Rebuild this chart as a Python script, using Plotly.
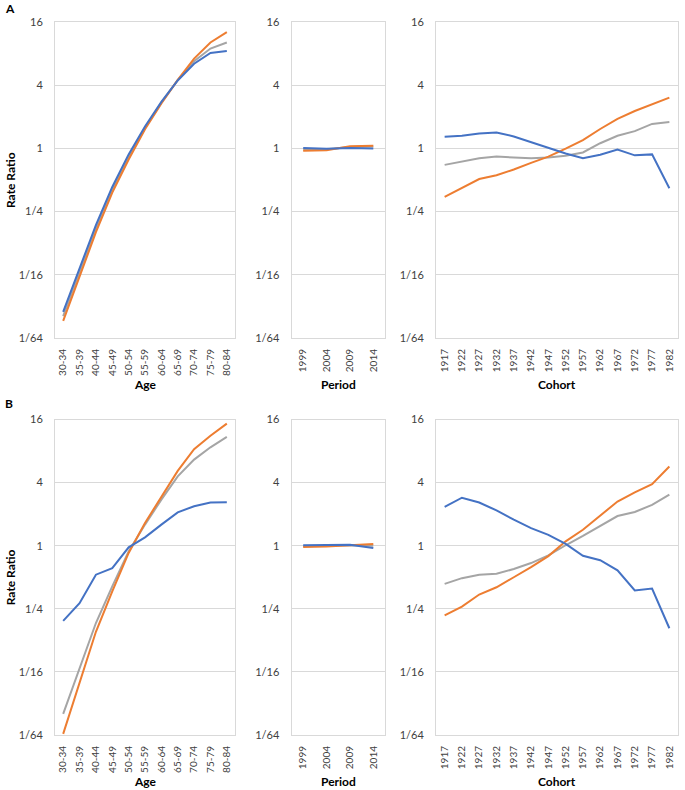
import plotly.graph_objects as go
import math

age_groups = ["30-34", "35-39", "40-44", "45-49", "50-54", "55-59", "60-64", "65-69", "70-74", "75-79", "80-84"]
periods = ["1999", "2004", "2009", "2014"]
cohorts = ["1917", "1922", "1927", "1932", "1937", "1942", "1947", "1952", "1957", "1962", "1967", "1972", "1977", "1982"]

# Panel A
a_age_blue = [0.0277, 0.0713, 0.186, 0.429, 0.877, 1.62, 2.77, 4.44, 6.41, 8.11, 8.46]
a_age_orange = [0.0227, 0.0604, 0.159, 0.379, 0.785, 1.52, 2.68, 4.50, 7.16, 10.2, 12.8]
a_age_gray = [0.0252, 0.0656, 0.172, 0.403, 0.829, 1.57, 2.73, 4.47, 6.77, 8.94, 10.2]
a_per_blue = [1.01, 0.99, 1.01, 1.00]
a_per_orange = [0.95, 0.96, 1.05, 1.06]
a_per_gray = [0.97, 0.98, 1.03, 1.04]
a_coh_blue = [1.29, 1.32, 1.39, 1.42, 1.30, 1.15, 1.01, 0.895, 0.807, 0.871, 0.973, 0.859, 0.877, 0.418]
a_coh_orange = [0.346, 0.420, 0.511, 0.555, 0.629, 0.727, 0.835, 0.993, 1.20, 1.53, 1.91, 2.27, 2.64, 3.05]
a_coh_gray = [0.697, 0.747, 0.807, 0.835, 0.818, 0.807, 0.818, 0.853, 0.914, 1.12, 1.32, 1.46, 1.71, 1.78]

# Panel B
b_age_blue = [0.192, 0.283, 0.529, 0.611, 0.966, 1.20, 1.59, 2.08, 2.38, 2.58, 2.60]
b_age_orange = [0.0160, 0.0490, 0.151, 0.366, 0.853, 1.65, 2.95, 5.17, 8.34, 11.2, 14.6]
b_age_gray = [0.0249, 0.0679, 0.183, 0.409, 0.883, 1.59, 2.75, 4.59, 6.63, 8.69, 10.9]
b_per_blue = [1.01, 1.01, 1.02, 0.95]
b_per_orange = [0.97, 0.98, 1.01, 1.04]
b_per_gray = [0.99, 1.00, 1.01, 1.00]
b_coh_blue = [2.35, 2.87, 2.58, 2.17, 1.77, 1.47, 1.27, 1.04, 0.801, 0.727, 0.582, 0.374, 0.390, 0.163]
b_coh_orange = [0.216, 0.262, 0.342, 0.401, 0.500, 0.624, 0.796, 1.10, 1.42, 1.95, 2.64, 3.23, 3.86, 5.70]
b_coh_gray = [0.432, 0.490, 0.529, 0.540, 0.599, 0.683, 0.807, 1.01, 1.24, 1.53, 1.92, 2.10, 2.45, 3.07]

y_tickvals = [1/64, 1/16, 1/4, 1, 4, 16]
y_ticktext = ["1/64", "1/16", "1/4", "1", "4", "16"]

BLUE = "#4472C4"
ORANGE = "#ED7D31"
GRAY = "#A5A5A5"
FONT = "Lato"

W, H = 685, 790

def fx(px):
    return px / W

def fy(py):
    return 1 - py / H

x_dom = {
    "age": [fx(55), fx(235)],
    "per": [fx(291.5), fx(385)],
    "coh": [fx(436), fx(678)],
}
y_dom = {
    "A": [fy(338), fy(22)],
    "B": [fy(735), fy(419.5)],
}

panels = [
    ("A", "age", age_groups, [a_age_blue, a_age_orange, a_age_gray], "Age"),
    ("A", "per", periods, [a_per_blue, a_per_orange, a_per_gray], "Period"),
    ("A", "coh", cohorts, [a_coh_blue, a_coh_orange, a_coh_gray], "Cohort"),
    ("B", "age", age_groups, [b_age_blue, b_age_orange, b_age_gray], "Age"),
    ("B", "per", periods, [b_per_blue, b_per_orange, b_per_gray], "Period"),
    ("B", "coh", cohorts, [b_coh_blue, b_coh_orange, b_coh_gray], "Cohort"),
]

fig = go.Figure()
layout = {}
annotations = []

for i, (row, col, cats, series, title) in enumerate(panels, start=1):
    xa = "x" if i == 1 else f"x{i}"
    ya = "y" if i == 1 else f"y{i}"
    for vals, color in [(series[2], GRAY), (series[1], ORANGE), (series[0], BLUE)]:
        fig.add_trace(go.Scatter(x=cats, y=vals, mode="lines",
                                 line=dict(color=color, width=2),
                                 xaxis=xa, yaxis=ya, showlegend=False,
                                 hoverinfo="skip"))
    xkey = "xaxis" if i == 1 else f"xaxis{i}"
    ykey = "yaxis" if i == 1 else f"yaxis{i}"
    layout[xkey] = dict(
        domain=x_dom[col], anchor=ya, type="category",
        categoryorder="array", categoryarray=cats,
        range=[-0.5, len(cats) - 0.5],
        tickangle=-90, tickfont=dict(family=FONT, size=10, color="#404040"),
        showgrid=False, showline=True, linecolor="#D9D9D9", linewidth=1,
        mirror=True, ticks="", zeroline=False, automargin=False,
        ticklabelstandoff=6,
    )
    layout[ykey] = dict(
        domain=y_dom[row], anchor=xa, type="log",
        range=[math.log10(1/64), math.log10(16)],
        tickvals=y_tickvals, ticktext=y_ticktext,
        tickfont=dict(family=FONT, size=11, color="#404040"),
        showgrid=True, gridcolor="#D9D9D9", gridwidth=1,
        showline=True, linecolor="#D9D9D9", linewidth=1, mirror=True,
        ticks="", ticklabelstandoff=9, zeroline=False, automargin=False,
    )
    xc = (x_dom[col][0] + x_dom[col][1]) / 2
    ty = 385 if row == "A" else 781
    annotations.append(dict(text=f"<b>{title}</b>", x=xc, y=fy(ty), xref="paper", yref="paper",
                            showarrow=False, xanchor="center", yanchor="middle",
                            font=dict(family=FONT, size=12, color="#000000")))

for row in ["A", "B"]:
    yc = (y_dom[row][0] + y_dom[row][1]) / 2
    annotations.append(dict(text="<b>Rate Ratio</b>", x=fx(10), y=yc, xref="paper", yref="paper",
                            showarrow=False, textangle=-90, xanchor="center", yanchor="middle",
                            font=dict(family=FONT, size=12, color="#000000")))

annotations.append(dict(text="<b>A</b>", x=fx(3), y=fy(8), xref="paper", yref="paper",
                        showarrow=False, xanchor="left", yanchor="middle",
                        font=dict(family=FONT, size=12, color="#000000")))
annotations.append(dict(text="<b>B</b>", x=fx(3), y=fy(403), xref="paper", yref="paper",
                        showarrow=False, xanchor="left", yanchor="middle",
                        font=dict(family=FONT, size=12, color="#000000")))

fig.update_layout(**layout)
fig.update_layout(
    width=W, height=H, margin=dict(l=0, r=0, t=0, b=0, autoexpand=False),
    paper_bgcolor="white", plot_bgcolor="white",
    annotations=annotations, showlegend=False,
)

fig.write_html("out.html", config={"displayModeBar": False},
               post_script="document.body.style.margin='0px';document.body.style.overflow='hidden';")
